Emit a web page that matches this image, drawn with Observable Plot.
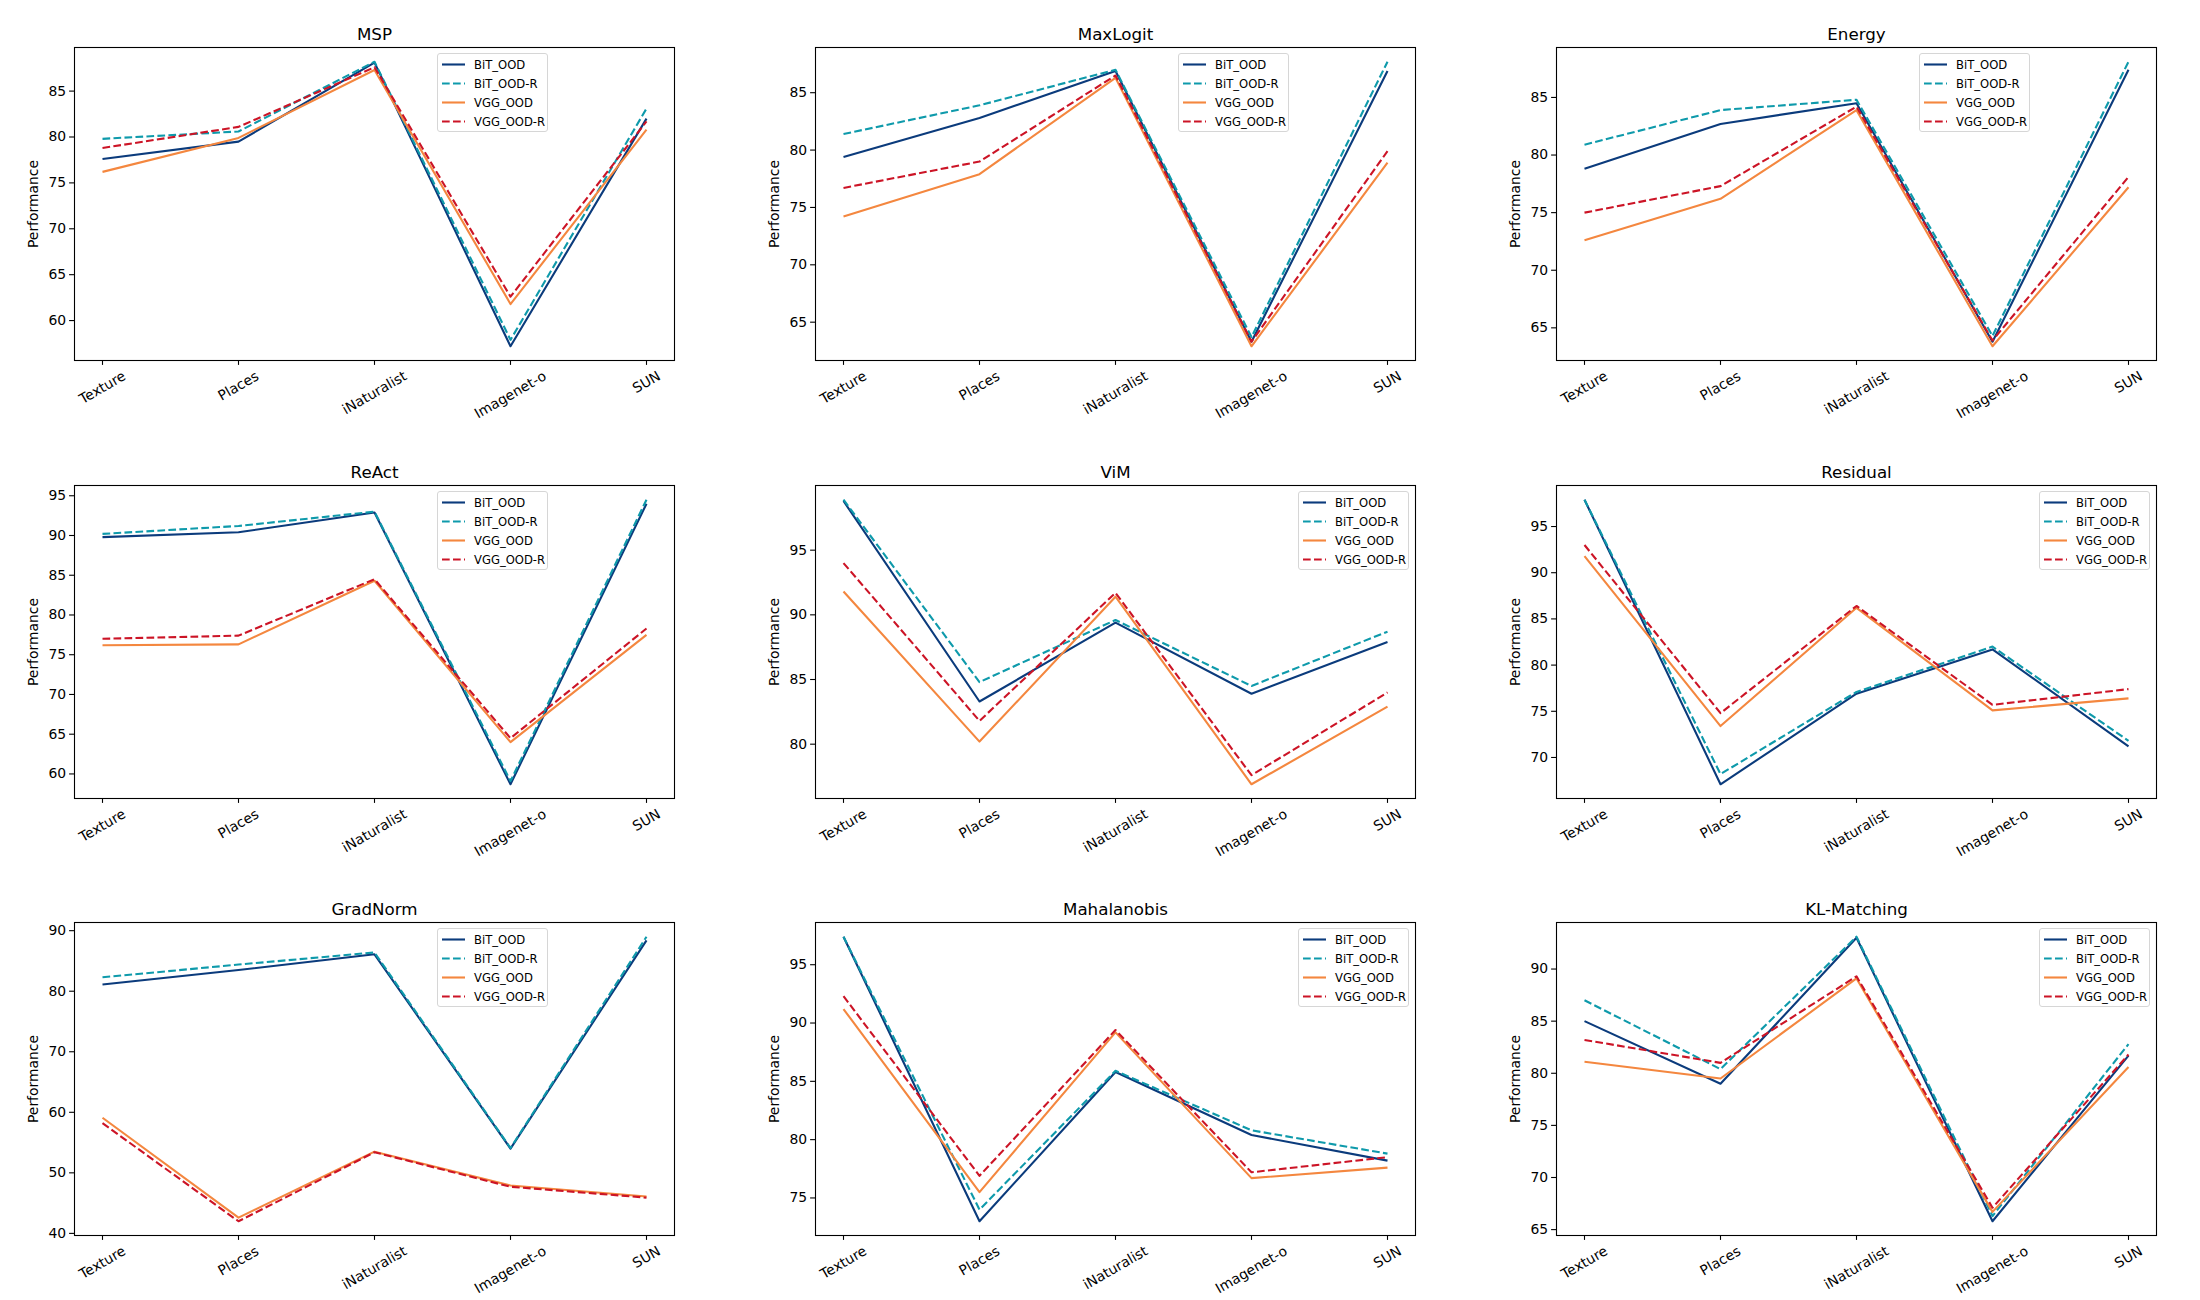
<!DOCTYPE html>
<html>
<head>
<meta charset="utf-8">
<script src="https://cdn.jsdelivr.net/npm/d3@7"></script>
<script src="https://cdn.jsdelivr.net/npm/@observablehq/plot@0.6"></script>
<style>
  html, body { margin: 0; padding: 0; background: #fff; overflow: hidden; }
  #fig { position: relative; width: 2200px; height: 1300px; background: #fff; font-family: "DejaVu Sans", sans-serif; }
  .cell { position: absolute; }
  .legend { position: absolute; box-sizing: border-box; border: 1px solid #d6d6d6; border-radius: 3px; background: rgba(255,255,255,0.8); }
</style>
</head>
<body>
<div id="fig"></div>
<script>
// ---------- data ----------
const categories = ["Texture", "Places", "iNaturalist", "Imagenet-o", "SUN"];
const seriesNames = ["BiT_OOD", "BiT_OOD-R", "VGG_OOD", "VGG_OOD-R"];
const seriesColors = ["#0b3b7c", "#0e9aab", "#f4873f", "#cc1426"];
const seriesDashed = [false, true, false, true];

const titles = ["MSP", "MaxLogit", "Energy", "ReAct", "ViM", "Residual", "GradNorm", "Mahalanobis", "KL-Matching"];

// rows: BiT_OOD, BiT_OOD-R, VGG_OOD, VGG_OOD-R ; columns follow categories
const msp = [
  [77.6, 79.5, 88.1, 57.2, 82.0],
  [79.8, 80.6, 88.2, 57.9, 83.1],
  [76.2, 79.9, 87.3, 61.8, 80.8],
  [78.8, 81.1, 87.6, 62.6, 81.7]
];
const maxLogit = [
  [79.4, 82.8, 86.9, 63.3, 86.9],
  [81.4, 83.9, 87.0, 63.7, 87.7],
  [74.2, 77.9, 86.3, 62.9, 78.9],
  [76.7, 79.0, 86.5, 63.3, 79.9]
];
const energy = [
  [78.8, 82.7, 84.5, 63.8, 87.4],
  [80.9, 83.9, 84.8, 64.3, 88.1],
  [72.6, 76.2, 83.9, 63.4, 77.2],
  [75.0, 77.3, 84.2, 63.9, 78.1]
];
const react = [
  [89.8, 90.4, 92.9, 58.7, 94.0],
  [90.2, 91.2, 93.0, 59.1, 94.5],
  [76.2, 76.3, 84.3, 64.0, 77.5],
  [77.0, 77.4, 84.5, 64.5, 78.3]
];
const vim = [
  [98.8, 83.3, 89.4, 83.9, 87.9],
  [98.9, 84.8, 89.6, 84.5, 88.7],
  [91.8, 80.2, 91.4, 76.9, 82.9],
  [94.0, 81.8, 91.7, 77.6, 84.0]
];
const residual = [
  [97.9, 67.1, 76.9, 81.7, 71.2],
  [97.9, 68.2, 77.1, 82.0, 71.8],
  [91.8, 73.4, 86.2, 75.1, 76.4],
  [93.0, 74.8, 86.4, 75.7, 77.4]
];
const gradNorm = [
  [81.1, 83.5, 86.1, 54.0, 88.4],
  [82.3, 84.4, 86.4, 54.1, 89.0],
  [59.1, 42.6, 53.5, 47.9, 46.1],
  [58.2, 42.0, 53.4, 47.7, 45.9]
];
const mahalanobis = [
  [97.4, 73.0, 85.8, 80.4, 78.2],
  [97.4, 74.0, 85.9, 80.8, 78.8],
  [91.2, 75.5, 89.2, 76.7, 77.6],
  [92.3, 76.9, 89.4, 77.2, 78.5]
];
const klMatching = [
  [85.0, 79.0, 93.0, 65.8, 81.7],
  [87.0, 80.4, 93.1, 66.3, 82.8],
  [81.1, 79.5, 89.1, 66.7, 80.6],
  [83.2, 81.0, 89.3, 67.1, 81.8]
];
const panelData = [msp, maxLogit, energy, react, vim, residual, gradNorm, mahalanobis, klMatching];

// y tick labels per panel
const yTicks = [
  [60, 65, 70, 75, 80, 85],
  [65, 70, 75, 80, 85],
  [65, 70, 75, 80, 85],
  [60, 65, 70, 75, 80, 85, 90, 95],
  [80, 85, 90, 95],
  [70, 75, 80, 85, 90, 95],
  [40, 50, 60, 70, 80, 90],
  [75, 80, 85, 90, 95],
  [65, 70, 75, 80, 85, 90]
];
const yLabel = "Performance";

// ---------- layout (styling only) ----------
const axLefts = [74, 815, 1556];
const axTops = [47, 485, 922];
const axW = 600, axH = 313;
const mL = 70, mT = 47, mR = 40, mB = 73;
const legendAtRight = [false, false, false, false, true, true, false, true, true];
const tickFont = 13.9;
const FONT = "DejaVu Sans";

const ctx = document.createElement("canvas").getContext("2d");
ctx.font = `${tickFont}px "${FONT}"`;
const labelDy = categories.map(c => {
  const w = ctx.measureText(c).width;
  const h = tickFont * 1.16;
  return 7.5 + (w * 0.5 + h * 0.866) / 2;
});

const fig = document.getElementById("fig");

panelData.forEach((rows, p) => {
  const col = p % 3, row = Math.floor(p / 3);
  const axL = axLefts[col], axT = axTops[row];

  const table = [];
  rows.forEach((vals, s) => vals.forEach((v, i) => table.push({series: seriesNames[s], si: s, cat: categories[i], value: v})));

  const all = rows.flat();
  const lo = d3.min(all), hi = d3.max(all);
  const pad = (hi - lo) * 0.05;

  const lineMarks = seriesNames.map((name, s) => Plot.line(table.filter(d => d.si === s), {
    x: "cat", y: "value",
    stroke: seriesColors[s],
    strokeWidth: 2.1,
    strokeDasharray: seriesDashed[s] ? "7.7,3.3" : null,
    strokeLinejoin: "round",
    strokeLinecap: "butt"
  }));

  const xLabelMarks = categories.map((c, i) => Plot.text([c], {
    x: d => d, text: d => d, frameAnchor: "bottom",
    rotate: -30, textAnchor: "middle", lineAnchor: "middle",
    dy: labelDy[i], fontSize: tickFont, fill: "black"
  }));

  const chart = Plot.plot({
    width: mL + axW + mR,
    height: mT + axH + mB,
    marginLeft: mL, marginTop: mT, marginRight: mR, marginBottom: mB,
    style: {background: "transparent", fontFamily: FONT, fontSize: tickFont + "px", overflow: "visible", maxWidth: "none", color: "black"},
    x: {type: "point", domain: categories, padding: 0.2},
    y: {domain: [lo - pad, hi + pad]},
    marks: [
      ...lineMarks,
      Plot.frame({stroke: "black", strokeWidth: 1.1}),
      Plot.axisX({tickSize: 4.9, tickFormat: () => "", label: null, strokeWidth: 1.1, stroke: "black"}),
      Plot.axisY({ticks: yTicks[p], tickSize: 4.9, tickPadding: 3.5, tickFormat: d => String(d), label: null, strokeWidth: 1.1, stroke: "black", fill: "black", fontSize: tickFont}),
      ...xLabelMarks,
      Plot.text([titles[p]], {text: d => d, frameAnchor: "top", dy: -8, lineAnchor: "bottom", textAnchor: "middle", fontSize: 16.7, fill: "black"}),
      Plot.text([yLabel], {text: d => d, frameAnchor: "left", dx: -41, rotate: -90, lineAnchor: "middle", textAnchor: "middle", fontSize: tickFont, fill: "black"})
    ]
  });
  chart.classList.add("cell");
  chart.style.left = (axL - mL) + "px";
  chart.style.top = (axT - mT) + "px";
  fig.appendChild(chart);

  // legend
  const lgW = 111, lgH = 79;
  const lg = document.createElement("div");
  lg.className = "legend";
  lg.style.left = (axL + (legendAtRight[p] ? axW - 6 - lgW : 363)) + "px";
  lg.style.top = (axT + 6) + "px";
  lg.style.width = lgW + "px";
  lg.style.height = lgH + "px";
  const svg = d3.create("svg").attr("width", lgW - 2).attr("height", lgH - 2)
    .style("position", "absolute").style("left", "0px").style("top", "0px");
  seriesNames.forEach((name, s) => {
    const cy = 10.5 + s * 19;
    svg.append("line").attr("x1", 4).attr("x2", 27).attr("y1", cy).attr("y2", cy)
      .attr("stroke", seriesColors[s]).attr("stroke-width", 2.1)
      .attr("stroke-dasharray", seriesDashed[s] ? "7.7,3.3" : null);
    svg.append("text").attr("x", 36).attr("y", cy).attr("dy", "0.36em")
      .attr("font-family", FONT).attr("font-size", 11.6).attr("fill", "black").text(name);
  });
  lg.appendChild(svg.node());
  fig.appendChild(lg);
});
</script>
</body>
</html>
